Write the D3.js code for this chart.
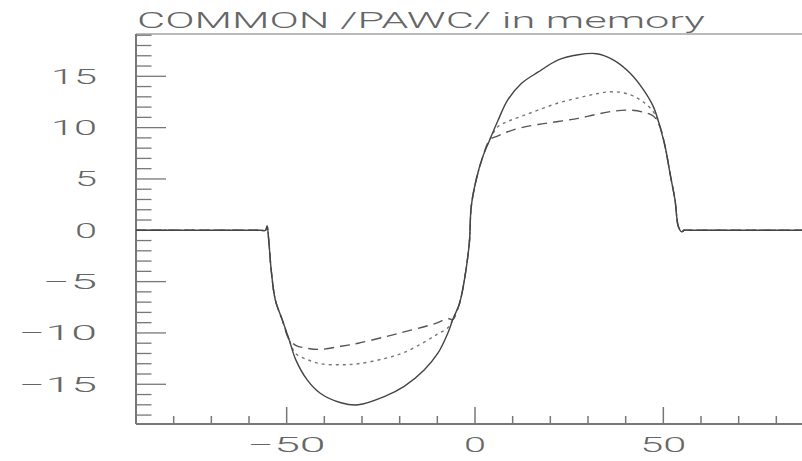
<!DOCTYPE html>
<html>
<head>
<meta charset="utf-8">
<script src="https://cdn.jsdelivr.net/npm/d3@7"></script>
<style>
  body { margin: 0; background: #fff; }
  svg text { font-family: Roboto, "Liberation Sans", Arial, sans-serif; font-weight: 300; fill: #666; }
</style>
</head>
<body>
<div id="chart"></div>
<script>
// values
var xGrid = [-90, -75, -62, -57, -55.6, -55.2, -54.8, -54.1, -53.0, -51.2, -49.4, -47.6, -44.5, -41.0, -35.6, -31.0, -24.1, -18.8,
  -13.5, -9.9, -7.2, -5.9, -4.1, -2.8, -1.5, -1.0, 0.3, 2.1, 3.9, 6.1, 8.7, 12.3, 16.7, 22.1, 27.4, 32.3, 36.7,
  41.2, 44.7, 47.4, 49.1, 50.5, 51.8, 53.1, 54.0, 54.9, 55.5, 57, 62, 75, 90];

var solidY = [0, 0, 0, 0, 0, 0.4, -0.8, -3.9, -6.8, -8.7, -10.6, -12.6, -14.6, -15.9, -16.8, -17.0, -16.2, -15.2,
  -13.6, -12.0, -10.0, -8.7, -7.1, -4.8, -1.2, 2.3, 4.9, 7.2, 8.8, 10.7, 12.7, 14.3, 15.4, 16.6, 17.1, 17.2, 16.6,
  15.3, 13.7, 12.0, 10.1, 8.1, 5.5, 2.95, 0.35, -0.15, 0, 0, 0, 0, 0];

var dottedY = [0, 0, 0, 0, 0, 0.4, -0.8, -3.9, -6.8, -8.7, -10.6, -12.0, -12.6, -13.0, -13.1, -13.0, -12.5, -11.9,
  -10.9, -10.1, -9.5, -8.7, -7.1, -4.8, -1.2, 2.3, 4.9, 7.2, 8.8, 10.1, 10.6, 11.1, 11.7, 12.4, 12.9, 13.3, 13.5,
  13.2, 12.5, 11.5, 10.1, 8.1, 5.5, 2.95, 0.35, -0.15, 0, 0, 0, 0, 0];

var dashedY = [0, 0, 0, 0, 0, 0.4, -0.8, -3.9, -6.8, -8.7, -10.6, -11.2, -11.5, -11.6, -11.3, -11.0, -10.4, -9.9,
  -9.4, -9.0, -8.6, -8.7, -7.1, -4.8, -1.2, 2.3, 4.9, 7.2, 8.8, 9.2, 9.6, 10.0, 10.3, 10.6, 10.9, 11.3, 11.6,
  11.7, 11.5, 11.1, 10.1, 8.1, 5.5, 2.95, 0.35, -0.15, 0, 0, 0, 0, 0];

var xTicks = [-50, 0, 50];
var yTicks = [-15, -10, -5, 0, 5, 10, 15];
var title = "COMMON /PAWC/ in memory";

var w = 802, h = 461;

var svg = d3.select("#chart").append("svg")
  .attr("width", w)
  .attr("height", h);

var x = d3.scaleLinear().domain([-90, 90]).range([136, 814]);
var y = d3.scaleLinear().domain([-18.87, 19.12]).range([424, 34]);

// frame
var frame = svg.append("g").attr("stroke", "#777").attr("fill", "none");
frame.append("line").attr("x1", x(-90)).attr("x2", x(90)).attr("y1", y.range()[1]).attr("y2", y.range()[1]).attr("stroke-width", 1.2);
frame.append("line").attr("x1", x(-90)).attr("x2", x(90)).attr("y1", y.range()[0]).attr("y2", y.range()[0]).attr("stroke-width", 2);
frame.append("line").attr("x1", x(-90)).attr("x2", x(-90)).attr("y1", y.range()[0]).attr("y2", y.range()[1]).attr("stroke-width", 2);

// y ticks (inside)
var yMinor = d3.range(-18, 20, 1);
frame.selectAll(".yt").data(yMinor).enter().append("line")
  .attr("x1", x(-90))
  .attr("x2", function(d) { return x(-90) + (d % 5 === 0 ? 30 : 15.5); })
  .attr("y1", function(d) { return y(d); })
  .attr("y2", function(d) { return y(d); })
  .attr("stroke-width", 1.3);

// x ticks (inside)
var xMinor = d3.range(-80, 90, 10);
frame.selectAll(".xt").data(xMinor).enter().append("line")
  .attr("x1", function(d) { return x(d); })
  .attr("x2", function(d) { return x(d); })
  .attr("y1", y.range()[0])
  .attr("y2", function(d) { return y.range()[0] - (d % 50 === 0 ? 17 : 8); })
  .attr("stroke-width", 1.5);

function labelText(v) { return v < 0 ? "\u2212" + Math.abs(v) : String(v); }
function labelLen(s) {
  var len = 0;
  for (var i = 0; i < s.length; i++) len += (s[i] === "\u2212" ? 32 : 24);
  return len - 2;
}

svg.selectAll(".ylab").data(yTicks).enter().append("text")
  .attr("x", 97)
  .attr("y", function(d) { return y(d) + 7.5; })
  .attr("text-anchor", "end")
  .attr("font-size", 21)
  .attr("textLength", function(d) { return labelLen(labelText(d)); })
  .attr("lengthAdjust", "spacingAndGlyphs")
  .text(labelText);

svg.selectAll(".xlab").data(xTicks).enter().append("text")
  .attr("x", function(d) { return x(d); })
  .attr("y", 452)
  .attr("text-anchor", "middle")
  .attr("font-size", 21)
  .attr("textLength", function(d) { return labelLen(labelText(d)); })
  .attr("lengthAdjust", "spacingAndGlyphs")
  .text(labelText);

svg.append("text")
  .attr("x", 137)
  .attr("y", 28)
  .attr("font-size", 22)
  .attr("textLength", 568)
  .attr("lengthAdjust", "spacingAndGlyphs")
  .text(title);

// curves
var line = d3.line()
  .x(function(d) { return x(d[0]); })
  .y(function(d) { return y(d[1]); })
  .curve(d3.curveCatmullRom.alpha(0.5));

var series = [
  { values: dashedY, dash: "10,6", color: "#555" },
  { values: dottedY, dash: "3,4", color: "#777" },
  { values: solidY, dash: null, color: "#444" }
];

series.forEach(function(s) {
  svg.append("path")
    .datum(xGrid.map(function(xv, i) { return [xv, s.values[i]]; }))
    .attr("d", line)
    .attr("fill", "none")
    .attr("stroke", s.color)
    .attr("stroke-width", 1.4)
    .attr("stroke-dasharray", s.dash);
});
</script>
</body>
</html>
